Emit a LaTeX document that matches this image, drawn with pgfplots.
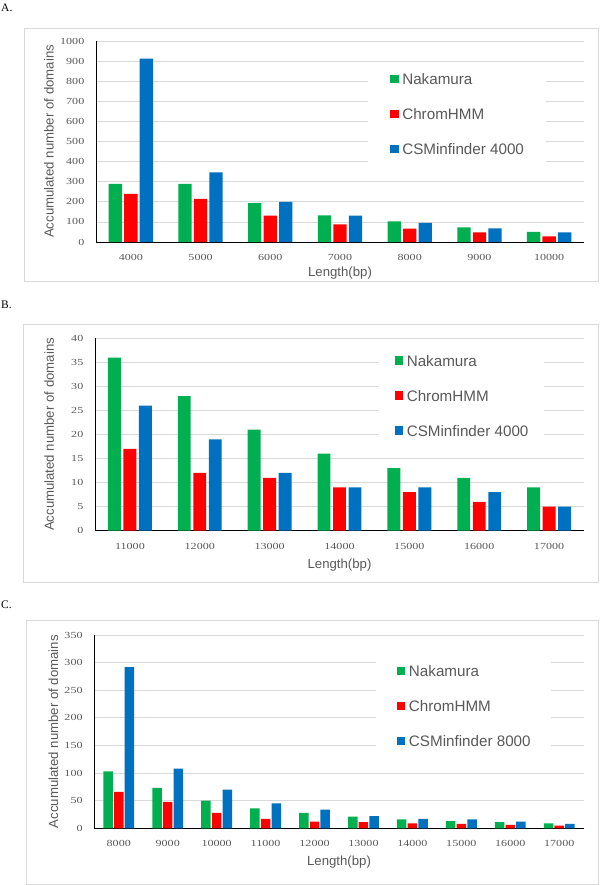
\documentclass[border=0pt]{standalone}
\usepackage{fontspec}
\setmainfont{Liberation Sans}
\newfontfamily\tickfont[FakeStretch=1.3]{Liberation Serif}
\newfontfamily\panelfont{Liberation Serif}
\usepackage{pgfplots}
\pgfplotsset{compat=1.18}
\definecolor{cgreen}{RGB}{0,176,80}
\definecolor{cred}{RGB}{255,0,0}
\definecolor{cblue}{RGB}{0,112,192}
\definecolor{cgrid}{RGB}{217,217,217}
\definecolor{ctext}{RGB}{89,89,89}
\pgfplotsset{
  /pgfplots/ybar legend/.style={/pgfplots/legend image code/.code={\fill[##1] (0pt,-4.25pt) rectangle (8.5pt,4.25pt);}},
  mybar/.style={
    scale only axis,
    ymin=0,
    xtick=data,
    axis x line*=bottom,
    axis y line*=left,
    ymajorgrids,
    grid style={cgrid, line width=0.8pt},
    tick style={draw=none},
    major tick length=0pt,
    axis line style={black, line width=0.9pt},
    scaled y ticks=false,
    /pgf/number format/1000 sep={},
    /pgf/number format/assume math mode=true,
    yticklabel style={font=\tickfont\fontsize{9.3}{9.3}\selectfont, text=ctext, inner sep=0pt, anchor=east, xshift=-11.5pt},
    xticklabel style={font=\tickfont\fontsize{9.3}{9.3}\selectfont, text=ctext, inner sep=0pt, anchor=center, yshift=-15.3pt},
    label style={font=\fontsize{13.2}{14}\selectfont, text=ctext},
    xlabel style={anchor=center},
    ylabel style={anchor=center},
    legend cell align=left,
    legend style={draw=none, fill=white, anchor=north west, inner ysep=10pt,
      row sep=24pt, column sep=3.6pt, font=\fontsize{15.2}{16}\selectfont, text=ctext,
      nodes={inner sep=0pt, text height=11pt, text depth=0pt}},
  }
}
\begin{document}
\begin{tikzpicture}
\path[use as bounding box] (0pt,0pt) rectangle (600pt,-885pt);
% frames
\draw[cgrid, line width=0.8pt] (24pt,-28pt) rectangle (598pt,-281pt);
\draw[cgrid, line width=0.8pt] (23pt,-324.3pt) rectangle (598pt,-582.7pt);
\draw[cgrid, line width=0.8pt] (26pt,-620pt) rectangle (598pt,-884pt);
% panel labels
\node[anchor=west, inner sep=0pt, font=\panelfont\fontsize{11.5}{12}\selectfont] at (1pt,-7.3pt) {A.};
\node[anchor=west, inner sep=0pt, font=\panelfont\fontsize{11.5}{12}\selectfont] at (1pt,-305pt) {B.};
\node[anchor=west, inner sep=0pt, font=\panelfont\fontsize{11.5}{12}\selectfont] at (1pt,-605pt) {C.};

% ---------- Panel A ----------
\begin{axis}[mybar,
  at={(96pt,-242pt)}, anchor=south west,
  width=488pt, height=201pt,
  ybar=2.2pt, bar width=13.3pt,
  xmin=-0.5, xmax=6.5, ymax=1000,
  ytick={0,100,...,1000},
  xticklabels={4000,5000,6000,7000,8000,9000,10000},
  xlabel={Length(bp)},
  ylabel={Accumulated number of domains},
  xlabel style={at={(axis description cs:0.5,-0.1527)}},
  ylabel style={at={(axis description cs:-0.0963,0.5)}},
  legend style={at={(axis description cs:0.5574,0.888)}, inner xsep=22pt},
]
\addplot[fill=cgreen, draw=none] coordinates {(0,289) (1,289) (2,193) (3,133) (4,103) (5,73) (6,50)};
\addplot[fill=cred, draw=none] coordinates {(0,239) (1,215) (2,131) (3,88) (4,66) (5,48) (6,28)};
\addplot[fill=cblue, draw=none] coordinates {(0,912) (1,347) (2,200) (3,131) (4,95) (5,68) (6,48)};
\legend{Nakamura, ChromHMM, CSMinfinder 4000}
\end{axis}

% ---------- Panel B ----------
\begin{axis}[mybar,
  at={(95pt,-530.7pt)}, anchor=south west,
  width=489pt, height=192.4pt,
  ybar=2.6pt, bar width=12.9pt,
  xmin=-0.5, xmax=6.5, ymax=40,
  ytick={0,5,...,40},
  xticklabels={11000,12000,13000,14000,15000,16000,17000},
  xlabel={Length(bp)},
  ylabel={Accumulated number of domains},
  xlabel style={at={(axis description cs:0.5,-0.178)}},
  ylabel style={at={(axis description cs:-0.0935,0.5)}},
  legend style={at={(axis description cs:0.5808,0.9662)}, inner xsep=15.5pt},
]
\addplot[fill=cgreen, draw=none] coordinates {(0,36) (1,28) (2,21) (3,16) (4,13) (5,11) (6,9)};
\addplot[fill=cred, draw=none] coordinates {(0,17) (1,12) (2,11) (3,9) (4,8) (5,6) (6,5)};
\addplot[fill=cblue, draw=none] coordinates {(0,26) (1,19) (2,12) (3,9) (4,9) (5,8) (6,5)};
\legend{Nakamura, ChromHMM, CSMinfinder 4000}
\end{axis}

% ---------- Panel C ----------
\begin{axis}[mybar,
  at={(94.3pt,-828.3pt)}, anchor=south west,
  width=489.4pt, height=193.3pt,
  ybar=1.2pt, bar width=9.5pt,
  xmin=-0.5, xmax=9.5, ymax=350,
  ytick={0,50,...,350},
  xticklabels={8000,9000,10000,11000,12000,13000,14000,15000,16000,17000},
  xlabel={Length(bp)},
  ylabel={Accumulated number of domains},
  xlabel style={at={(axis description cs:0.5,-0.176)}},
  ylabel style={at={(axis description cs:-0.0838,0.5)}},
  legend style={at={(axis description cs:0.576,0.894)}, inner xsep=20.5pt},
]
\addplot[fill=cgreen, draw=none] coordinates {(0,103) (1,73) (2,50) (3,36) (4,28) (5,21) (6,16) (7,13) (8,11) (9,9)};
\addplot[fill=cred, draw=none] coordinates {(0,66) (1,48) (2,28) (3,17) (4,12) (5,11) (6,9) (7,8) (8,6) (9,5)};
\addplot[fill=cblue, draw=none] coordinates {(0,292) (1,108) (2,70) (3,45) (4,34) (5,22) (6,17) (7,16) (8,12) (9,8)};
\legend{Nakamura, ChromHMM, CSMinfinder 8000}
\end{axis}
\end{tikzpicture}
\end{document}
